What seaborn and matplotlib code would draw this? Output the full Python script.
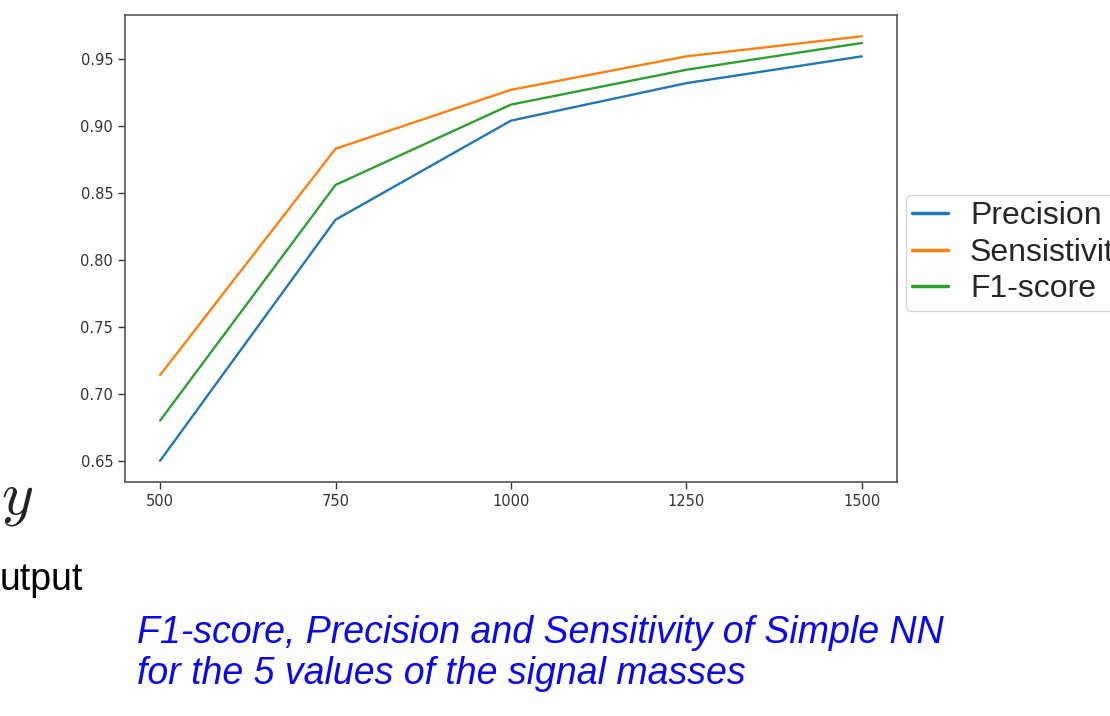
import pandas as pd
import matplotlib
matplotlib.use('Agg')
import matplotlib.pyplot as plt
import seaborn as sns

masas = [500, 750, 1000, 1250, 1500]
precision = [0.650, 0.830, 0.904, 0.932, 0.952]
sensitivity = [0.714, 0.883, 0.927, 0.952, 0.967]
f1score = [0.680, 0.856, 0.916, 0.942, 0.962]
series = ['Precision', 'Sensistivity', 'F1-score']
yticks = [0.65, 0.70, 0.75, 0.80, 0.85, 0.90, 0.95]
xticks = [500, 750, 1000, 1250, 1500]

sns.set_theme(style='ticks')
plt.rcParams['font.family'] = ['DejaVu Sans']

colores = ['#1f77b4', '#ff7f0e', '#2ca02c']

datos = pd.DataFrame({
    'masa': masas * 3,
    'valor': precision + sensitivity + f1score,
    'metrica': [s for s in series for _ in masas],
})

fig = plt.figure(figsize=(11.1, 7.16), dpi=100)
ax = fig.add_axes([0.1126, 0.3268, 0.6955, 0.6522])

sns.lineplot(data=datos, x='masa', y='valor', hue='metrica', hue_order=series,
             palette=colores, linewidth=1.7, ax=ax, legend=False)

ax.set_xticks(xticks)
ax.set_yticks(yticks)
ax.set_yticklabels([f'{v:.2f}' for v in yticks])
ax.set_xlabel('')
ax.set_ylabel('')
ax.tick_params(labelsize=10.5, colors='#333333', length=5, width=1)
for sp in ax.spines.values():
    sp.set_color('#555555')
    sp.set_linewidth(1.2)

handles = [plt.Line2D([], [], color=c, linewidth=2.5) for c in colores]
fig.legend(handles, series, loc='upper left', bbox_to_anchor=(906 / 1110, 1 - 195 / 716),
           prop={'family': 'Liberation Sans', 'size': 23}, frameon=True,
           handlelength=1.1, handletextpad=0.7, labelspacing=0.2,
           borderpad=0.2, borderaxespad=0, edgecolor='#cccccc', fancybox=True)

fig.text(0.001, 1 - 514 / 716, '$y$', fontsize=44, math_fontfamily='cm', color='#222222')
fig.text(0.0, 1 - 590 / 716, 'utput', fontsize=27, family='Liberation Sans', color='black')
fig.text(137 / 1110, 1 - 643 / 716, 'F1-score, Precision and Sensitivity of Simple NN',
         fontsize=27, family='Liberation Sans', style='italic', color='#0808f0')
fig.text(137 / 1110, 1 - 684 / 716, 'for the 5 values of the signal masses',
         fontsize=27, family='Liberation Sans', style='italic', color='#0808f0')

fig.savefig('out.png', dpi=100)
